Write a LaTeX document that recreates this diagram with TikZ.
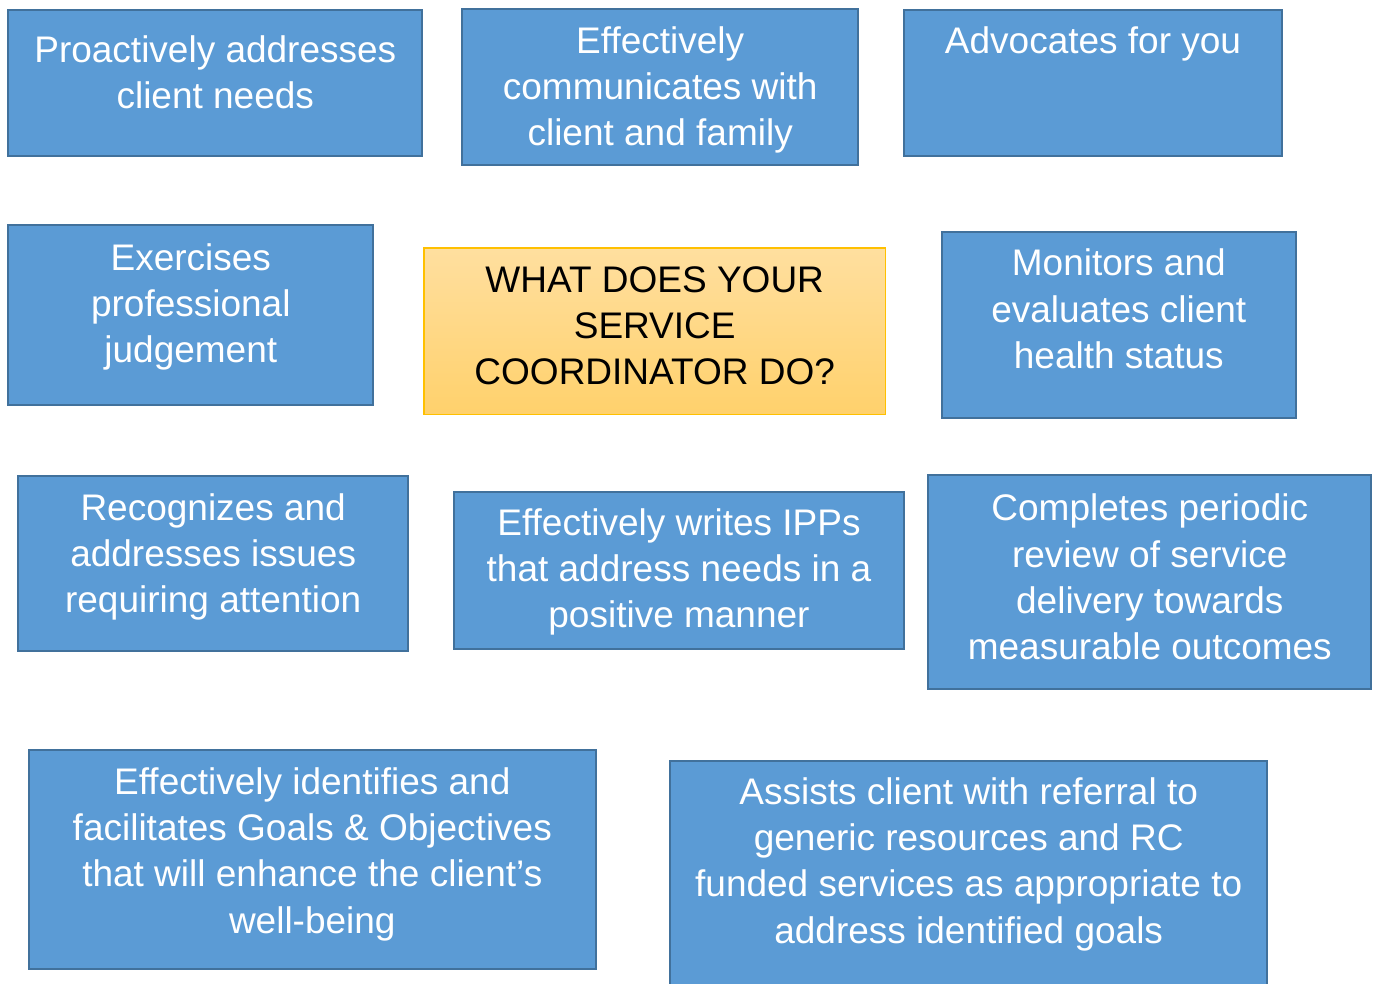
\documentclass[tikz,border=0pt]{standalone}
\usepackage{fontspec}
\setmainfont{Liberation Sans}
\definecolor{boxfill}{HTML}{5B9BD5}
\definecolor{boxline}{HTML}{41719C}
\definecolor{goldtop}{HTML}{FFDF9F}
\definecolor{goldbot}{HTML}{FFD16C}
\definecolor{goldline}{HTML}{FFC000}
\tikzset{
  bluebox/.style={rectangle, inner sep=0pt, fill=boxfill, draw=boxline, line width=2pt},
  goldbox/.style={rectangle, inner sep=0pt, top color=goldtop, bottom color=goldbot, draw=goldline, line width=1.5pt},
  txt/.style={anchor=north, inner sep=0pt, align=center, text=white,
    font=\fontsize{37}{46.2}\selectfont},
  darktxt/.style={txt, text=black}
}
\newcommand{\firstline}{\rule{0pt}{30pt}}
\begin{document}
\begin{tikzpicture}[x=1pt,y=-1pt]
\useasboundingbox (0,0) rectangle (1376,983);
\clip (0,0) rectangle (1376,983);
\fill[white] (0,0) rectangle (1376,983);

% boxes
\node[bluebox, minimum width=414pt, minimum height=146.6pt] (b1) at (215.3,83) {};
\node[bluebox, minimum width=396.3pt, minimum height=155.4pt] (b2) at (660.2,87) {};
\node[bluebox, minimum width=378pt, minimum height=146.6pt] (b3) at (1093,83) {};
\node[bluebox, minimum width=365pt, minimum height=179.4pt] (b4) at (190.8,315) {};
\node[goldbox, minimum width=461.2pt, minimum height=166.2pt] (b5) at (654.7,331.2) {};
\node[bluebox, minimum width=353.7pt, minimum height=186.6pt] (b6) at (1118.8,325) {};
\node[bluebox, minimum width=389.7pt, minimum height=174.7pt] (b7) at (213.2,563.4) {};
\node[bluebox, minimum width=450pt, minimum height=157pt] (b8) at (679,570.5) {};
\node[bluebox, minimum width=443pt, minimum height=213.7pt] (b9) at (1149.8,582.2) {};
\node[bluebox, minimum width=566.7pt, minimum height=218.7pt] (b10) at (312.3,859.7) {};
\node[bluebox, minimum width=596.7pt, minimum height=239pt] (b11) at (968.7,880.5) {};

% texts
\node[txt] (t1) at (215.3,32) {\firstline Proactively addresses\\client needs};
\node[txt] (t2) at (660.2,23.3) {\firstline Effectively\\communicates with\\client and family};
\node[txt] (t3) at (1093,23.3) {\firstline Advocates for you};
\node[txt] (t4) at (190.8,240) {\firstline Exercises\\professional\\judgement};
\node[darktxt] (t5) at (654.7,262.3) {\firstline WHAT DOES YOUR\\SERVICE\\COORDINATOR DO?};
\node[txt] (t6) at (1118.8,245.7) {\firstline Monitors and\\evaluates client\\health status};
\node[txt] (t7) at (213.2,490) {\firstline Recognizes and\\addresses issues\\requiring attention};
\node[txt] (t8) at (679,505) {\firstline Effectively writes IPPs\\that address needs in a\\positive manner};
\node[txt] (t9) at (1149.8,490.7) {\firstline Completes periodic\\review of service\\delivery towards\\measurable outcomes};
\node[txt] (t10) at (312.3,764.3) {\firstline Effectively identifies and\\facilitates Goals \& Objectives\\that will enhance the client’s\\well-being};
\node[txt] (t11) at (968.7,774.3) {\firstline Assists client with referral to\\generic resources and RC\\funded services as appropriate to\\address identified goals};
\end{tikzpicture}
\end{document}
